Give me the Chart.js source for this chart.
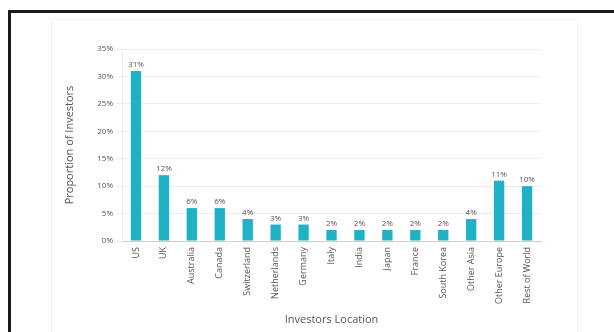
<!DOCTYPE html>
<html>
<head>
<meta charset="utf-8">
<script src="https://cdn.jsdelivr.net/npm/chart.js@4"></script>
<style>
  body { margin: 0; background: #fff; }
  #wrap { position: relative; width: 614px; height: 332px; overflow: hidden; }
  #frame { position: absolute; left: 8px; top: 10px; width: 620px; height: 340px;
           border-left: 3px solid #1a1a1a; border-top: 3px solid #1a1a1a; }
  #panel { position: absolute; left: 51px; top: 19px; width: 525px; height: 330px;
           border: 1px solid #f1f1f1; }
  canvas { position: absolute; left: 0; top: 0; }
</style>
</head>
<body>
<div id="wrap">
  <div id="frame"></div>
  <div id="panel"></div>
  <canvas id="chart" width="614" height="332"></canvas>
</div>
<script>
// Investor share by location (%)
const locations = ['US', 'UK', 'Australia', 'Canada', 'Switzerland', 'Netherlands', 'Germany',
  'Italy', 'India', 'Japan', 'France', 'South Korea', 'Other Asia', 'Other Europe', 'Rest of World'];
const shares = [31, 12, 6, 6, 4, 3, 3, 2, 2, 2, 2, 2, 4, 11, 10];
const yTicks = [0, 5, 10, 15, 20, 25, 30, 35];

const barColor = '#1fb2c6';
const textColor = '#555';

// draw "31%" style labels above each bar
const valueLabels = {
  id: 'valueLabels',
  afterDatasetsDraw(chart) {
    const ctx = chart.ctx;
    const meta = chart.getDatasetMeta(0);
    ctx.save();
    ctx.font = '8px "Open Sans"';
    ctx.fillStyle = textColor;
    ctx.textAlign = 'center';
    ctx.textBaseline = 'bottom';
    meta.data.forEach((bar, i) => {
      ctx.fillText(shares[i] + '%', bar.x, bar.y - 2);
    });
    ctx.restore();
  }
};

const ctx = document.getElementById('chart').getContext('2d');
new Chart(ctx, {
  type: 'bar',
  data: {
    labels: locations,
    datasets: [{
      data: shares,
      backgroundColor: barColor,
      barPercentage: 0.37,
      categoryPercentage: 1.0
    }]
  },
  options: {
    responsive: false,
    animation: false,
    layout: { padding: { left: 63, right: 73, top: 49, bottom: 6 } },
    plugins: { legend: { display: false }, tooltip: { enabled: false } },
    scales: {
      x: {
        afterFit(scale) { scale.height = 85; },
        grid: { display: false, drawTicks: false },
        border: { color: '#cfcfcf' },
        ticks: {
          autoSkip: false, minRotation: 90, maxRotation: 90, padding: 6,
          color: textColor, font: { family: 'Open Sans', size: 9 }
        },
        title: {
          display: true, text: 'Investors Location', color: textColor,
          font: { family: 'Open Sans', size: 11 }, padding: 0
        }
      },
      y: {
        min: 0, max: 35,
        afterFit(scale) { scale.width = 59; },
        afterBuildTicks(scale) { scale.ticks = yTicks.map(v => ({ value: v })); },
        grid: { color: '#ececec', tickLength: 6, tickColor: '#ececec' },
        border: { color: '#ececec' },
        ticks: {
          padding: 3, color: textColor, font: { family: 'Open Sans', size: 8 },
          callback: v => v + '%'
        },
        title: {
          display: true, text: 'Proportion of Investors', color: textColor,
          font: { family: 'Open Sans', size: 11 }, padding: 0
        }
      }
    }
  },
  plugins: [valueLabels]
});
</script>
</body>
</html>
